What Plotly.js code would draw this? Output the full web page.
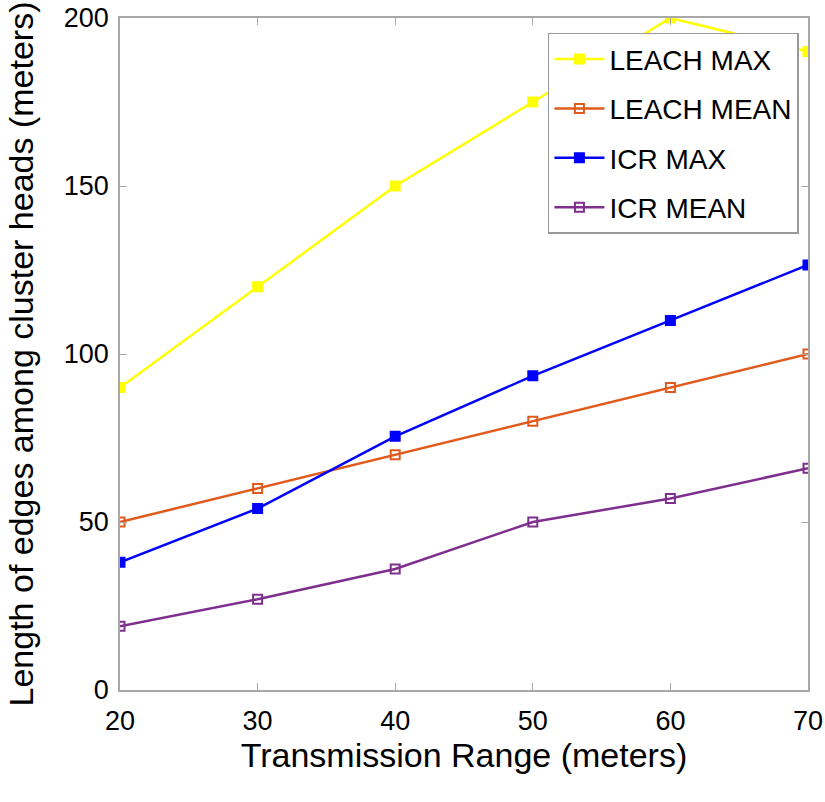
<!DOCTYPE html>
<html><head><meta charset="utf-8">
<script src="https://cdn.plot.ly/plotly-3.0.1.min.js"></script>
<style>body{margin:0;background:#fff}#c{width:825px;height:802px}</style>
</head><body><div id="c"></div>
<script>
const xRange = [20, 30, 40, 50, 60, 70];
const leachMax = [90, 120, 150, 175, 200, 190];
const leachMean = [50, 60, 70, 80, 90, 100];
const icrMax = [38, 54, 75.5, 93.5, 110, 126.5];
const icrMean = [19, 27, 36, 50, 57, 66];
const names = ['LEACH MAX', 'LEACH MEAN', 'ICR MAX', 'ICR MEAN'];

function tr(y, name, color, symbol, grp) {
  return {x: xRange, y: y, name: name, type: 'scatter', mode: 'lines+markers',
    legendgroup: grp,
    line: {color: color, width: 2.5},
    marker: {color: color, symbol: symbol, size: 9, line: {color: color, width: 2}}};
}
const data = [
  tr(leachMax, names[0], '#ffff00', 'square', 'a'),
  tr(leachMean, names[1], '#e05a1c', 'square-open', 'b'),
  tr(icrMax, names[2], '#0000ff', 'square', 'c'),
  tr(icrMean, names[3], '#7e2f8e', 'square-open', 'd')
];
const axisCommon = {showline: true, linecolor: '#a8a8a8', linewidth: 1.5, mirror: 'ticks',
  ticks: 'inside', ticklen: 7, tickcolor: '#a8a8a8', showgrid: false, zeroline: false,
  tickfont: {size: 27, color: '#000'}};
const layout = {
  width: 825, height: 802,
  margin: {l: 120, r: 17, t: 18, b: 112},
  paper_bgcolor: '#fff', plot_bgcolor: '#fff',
  font: {family: 'Liberation Sans, Arial, sans-serif', color: '#000'},
  xaxis: Object.assign({}, axisCommon, {range: [20, 70], tickvals: xRange, ticklabelstandoff: 6,
    title: {text: 'Transmission Range (meters)', font: {size: 34}, standoff: 0}}),
  yaxis: Object.assign({}, axisCommon, {range: [0, 200], tickvals: [0, 50, 100, 150, 200], ticklabelstandoff: 4,
    title: {text: 'Length of edges among cluster heads (meters)', font: {size: 34}, standoff: 20}}),
  legend: {x: 0.622, y: 0.978, xanchor: 'left', yanchor: 'top', bgcolor: '#fff',
    bordercolor: '#999', borderwidth: 1.5, font: {size: 28}, tracegroupgap: 10, itemwidth: 50},
  showlegend: true
};
Plotly.newPlot('c', data, layout, {displayModeBar: false});
</script></body></html>
